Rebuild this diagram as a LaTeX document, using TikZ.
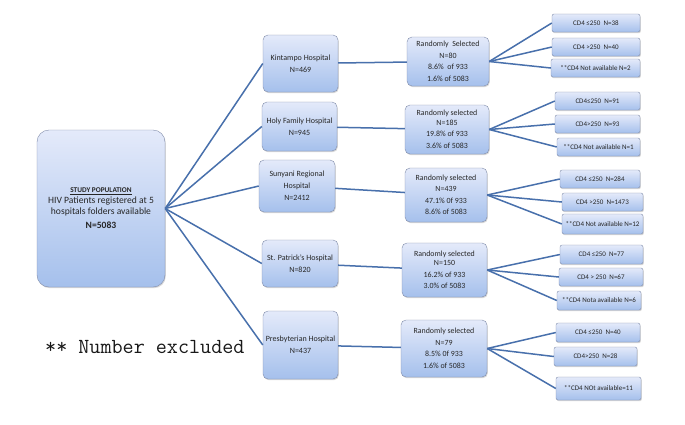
\documentclass[tikz,border=0pt]{standalone}
\usepackage{fontspec}
\setmainfont{Carlito}
\usetikzlibrary{positioning, shadows}
\definecolor{boxtop}{RGB}{228,234,250}
\definecolor{boxbot}{RGB}{165,192,236}
\definecolor{boxedge}{RGB}{128,140,170}
\definecolor{linkblue}{RGB}{72,112,172}

\begin{document}
\begin{tikzpicture}[
    x=1pt, y=-1pt,
    box/.style={rectangle, rounded corners=5pt, draw=boxedge, thin, inner sep=0pt, align=center,
        top color=boxtop, bottom color=boxbot, text=black!85,
        drop shadow={opacity=0.3, shadow xshift=0.8pt, shadow yshift=-1.2pt},
        font=\fontsize{8}{12}\selectfont},
    studybox/.style={box, rounded corners=12pt, font=\fontsize{9.6}{11}\selectfont},
    randbox/.style={box, font=\fontsize{7.9}{11.5}\selectfont},
    cdbox/.style={box, rounded corners=2pt, minimum height=18pt, font=\fontsize{7}{8}\selectfont},
    link/.style={draw=linkblue, line width=1.5pt}
]
    \fill[white] (0,0) rectangle (685,424);
    \useasboundingbox (0,0) rectangle (685,424);

    % Study population
    \node[studybox, minimum width=128pt, minimum height=157pt] (study) at (101,208.5)
        {{\fontsize{7.3}{9}\selectfont\bfseries\underline{STUDY POPULATION}}\\
         HIV Patients registered at 5\\hospitals folders available\\[3pt]
         \textbf{N=5083}};

    % Hospitals
    \node[box, minimum width=75pt, minimum height=57pt] (kintampo) at (300.5,63.5) {Kintampo Hospital\\N=469};
    \node[box, minimum width=75pt, minimum height=49pt] (holyfamily) at (299.5,126.5) {Holy Family Hospital\\N=945};
    \node[box, minimum width=76pt, minimum height=52pt] (sunyani) at (297,186) {Sunyani Regional\\Hospital\\N=2412};
    \node[box, minimum width=76pt, minimum height=47pt] (patrick) at (300,263.5) {St. Patrick's Hospital\\N=820};
    \node[box, minimum width=75pt, minimum height=68pt] (presby) at (300.5,345) {Presbyterian Hospital\\N=437};

    % Random selection
    \node[randbox, minimum width=82pt, minimum height=49pt] (rand1) at (448,61.5) {Randomly\ \ Selected\\N=80\\8.6\%\ \ of 933\\1.6\% of 5083};
    \node[randbox, minimum width=84pt, minimum height=49pt] (rand2) at (447,129.5) {Randomly selected\\[-2pt]N=185\\19.8\% of 933\\3.6\% of 5083};
    \node[randbox, minimum width=82pt, minimum height=54pt] (rand3) at (446,195) {Randomly selected\\N=439\\47.1\% 0f 933\\8.6\% of 5083};
    \node[randbox, minimum width=85pt, minimum height=54pt] (rand4) at (444.5,270) {Randomly selected\\[-2pt]N=150\\16.2\% of 933\\3.0\% of 5083};
    \node[randbox, minimum width=86pt, minimum height=57pt] (rand5) at (444,348.5) {Randomly selected\\N=79\\8.5\% 0f 933\\1.6\% of 5083};

    % CD4 counts
    \node[cdbox, minimum width=88pt] (cd1a) at (596,23) {CD4 ≤250\ \ N=38};
    \node[cdbox, minimum width=88pt] (cd1b) at (596,47) {CD4 >250\ \ N=40};
    \node[cdbox, minimum width=89pt] (cd1c) at (595.5,68) {**CD4 Not available N=2};

    \node[cdbox, minimum width=85pt] (cd2a) at (597.5,101) {CD4≤250\ \ N=91};
    \node[cdbox, minimum width=85pt] (cd2b) at (597.5,124) {CD4>250\ \ N=93};
    \node[cdbox, minimum width=83pt] (cd2c) at (598.5,147) {**CD4 Not available N=1};

    \node[cdbox, minimum width=80pt] (cd3a) at (600,179) {CD4 ≤250\ \ N=284};
    \node[cdbox, minimum width=81pt] (cd3b) at (602.5,202) {CD4 >250\ \ N=1473};
    \node[cdbox, minimum width=81pt, minimum height=20pt] (cd3c) at (602.5,224) {**CD4 Not available N=12};

    \node[cdbox, minimum width=83pt, minimum height=19pt] (cd4a) at (601.5,254.5) {CD4 ≤250\ \ N=77};
    \node[cdbox, minimum width=84pt] (cd4b) at (601,277) {CD4 > 250\ \ N=67};
    \node[cdbox, minimum width=84pt, minimum height=19pt] (cd4c) at (599,300.5) {**CD4 Nota available N=6};

    \node[cdbox, minimum width=84pt, minimum height=19pt] (cd5a) at (598,332.5) {CD4 ≤250\ \ N=40};
    \node[cdbox, minimum width=83pt, minimum height=19pt] (cd5b) at (595.5,356.5) {CD4>250\ \ N=28};
    \node[cdbox, minimum width=85pt, minimum height=23pt] (cd5c) at (598.5,388.5) {**CD4 NOt available=11};

    % Note
    \node[anchor=west, inner sep=0pt, font=\ttfamily\fontsize{21.5}{23}\selectfont, text=black!90] (note) at (45,347) {** Number excluded};

    % Links
    \draw[link] (study.east) -- (kintampo.west);
    \draw[link] (study.east) -- (holyfamily.west);
    \draw[link] (study.east) -- (sunyani.west);
    \draw[link] (study.east) -- (patrick.west);
    \draw[link] (study.east) -- (presby.west);

    \draw[link] (kintampo) -- (rand1);
    \draw[link] (holyfamily) -- (rand2);
    \draw[link] (sunyani) -- (rand3);
    \draw[link] (patrick) -- (rand4);
    \draw[link] (presby) -- (rand5);

    \draw[link] (rand1.east) -- (cd1a.west);
    \draw[link] (rand1.east) -- (cd1b.west);
    \draw[link] (rand1.east) -- (cd1c.west);
    \draw[link] (rand2.east) -- (cd2a.west);
    \draw[link] (rand2.east) -- (cd2b.west);
    \draw[link] (rand2.east) -- (cd2c.west);
    \draw[link] (rand3.east) -- (cd3a.west);
    \draw[link] (rand3.east) -- (cd3b.west);
    \draw[link] (rand3.east) -- (cd3c.west);
    \draw[link] (rand4.east) -- (cd4a.west);
    \draw[link] (rand4.east) -- (cd4b.west);
    \draw[link] (rand4.east) -- (cd4c.west);
    \draw[link] (rand5.east) -- (cd5a.west);
    \draw[link] (rand5.east) -- (cd5b.west);
    \draw[link] (rand5.east) -- (cd5c.west);
\end{tikzpicture}
\end{document}
